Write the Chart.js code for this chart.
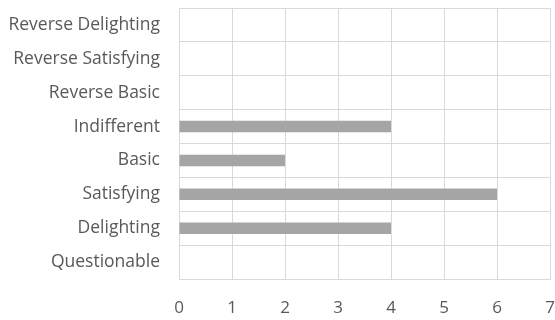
<!DOCTYPE html>
<html><head><meta charset="utf-8">
<script src="https://cdn.jsdelivr.net/npm/chart.js@4/dist/chart.umd.min.js"></script>
<style>html,body{margin:0;padding:0;background:#fff}#wrap{width:555px;height:320px}</style>
</head><body><div id="wrap"><canvas id="c" width="555" height="320"></canvas></div>
<script>
const categories = ["Reverse Delighting","Reverse Satisfying","Reverse Basic","Indifferent","Basic","Satisfying","Delighting","Questionable"];
const counts = [0,0,0,4,2,6,4,0];
const xTicks = [0,1,2,3,4,5,6,7];

new Chart(document.getElementById('c'), {
  type: 'bar',
  data: { labels: categories, datasets: [{ data: counts, backgroundColor: '#a5a5a5', borderWidth: 0, barPercentage: 0.34, categoryPercentage: 1 }] },
  options: {
    indexAxis: 'y', responsive: false, animation: false,
    layout: { padding: { top: 8, right: 5, left: 0, bottom: 0 } },
    plugins: { legend: { display: false }, tooltip: { enabled: false } },
    scales: {
      x: { min: xTicks[0], max: xTicks[xTicks.length-1],
           afterFit: s => { s.height = 41; s.paddingLeft = 0; s.paddingRight = 0; },
           ticks: { stepSize: 1, color: '#595959', font: { family: 'Open Sans', size: 17 }, padding: 19 },
           grid: { color: '#d9d9d9', drawTicks: false }, border: { color: '#d9d9d9' } },
      y: { afterFit: s => { s.width = 179; s.paddingTop = 0; s.paddingBottom = 0; },
           ticks: { color: '#595959', font: { family: 'Open Sans', size: 17.5 }, padding: 19 },
           grid: { color: '#d9d9d9', offset: true, drawTicks: false }, border: { color: '#d9d9d9' } }
    }
  }
});
</script></body></html>
